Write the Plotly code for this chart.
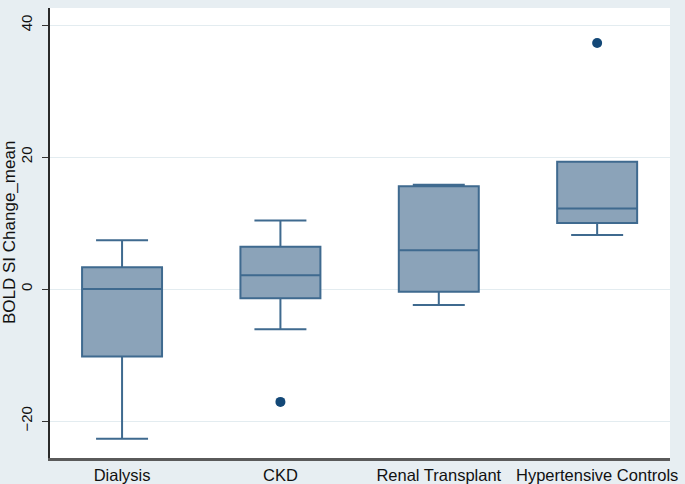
import plotly.graph_objects as go

groups = ["Dialysis", "CKD", "Renal Transplant", "Hypertensive Controls"]
lower_whisker = [-22.7, -6.1, -2.4, 8.2]
q1_vals = [-10.2, -1.4, -0.4, 10.0]
medians = [0.0, 2.1, 5.9, 12.2]
q3_vals = [3.3, 6.4, 15.6, 19.3]
upper_whisker = [7.4, 10.4, 15.8, 19.3]
outlier_group = [1, 3]
outlier_vals = [-17.1, 37.3]

box_fill = "#8ba3b9"
box_line = "#3f6a8f"
dot_color = "#134877"
paper = "#e7eef2"

fig = go.Figure()
fig.add_trace(go.Box(
    x=list(range(len(groups))),
    q1=q1_vals, median=medians, q3=q3_vals,
    lowerfence=lower_whisker, upperfence=upper_whisker,
    fillcolor=box_fill,
    line=dict(color=box_line, width=2),
    width=0.505,
    whiskerwidth=0.65,
    boxpoints=False,
    showlegend=False,
))
fig.add_trace(go.Scatter(
    x=outlier_group, y=outlier_vals,
    mode="markers",
    marker=dict(color=dot_color, size=10),
    showlegend=False,
))

fig.update_layout(
    width=685, height=484,
    margin=dict(l=50, r=15, t=8, b=26),
    paper_bgcolor=paper,
    plot_bgcolor="white",
    font=dict(family="Liberation Sans, Arial, sans-serif", color="#111111"),
    xaxis=dict(
        range=[-0.455, 3.46],
        tickvals=list(range(len(groups))),
        ticktext=groups,
        showgrid=False, zeroline=False,
        showline=True, linecolor="#5a5a5a", linewidth=3,
        ticks="", tickfont=dict(size=16.5),
        automargin=False,
    ),
    yaxis=dict(
        range=[-25.6, 42.6],
        tickvals=[-20, 0, 20, 40],
        tickangle=-90,
        tickfont=dict(size=15),
        ticks="outside", ticklen=6, tickcolor="#333333",
        ticklabelstandoff=4,
        showgrid=True, gridcolor="#e3ecf0", gridwidth=1,
        zeroline=False,
        showline=True, linecolor="#2a2a2a", linewidth=2,
        automargin=False,
    ),
)

# y title as a rotated annotation so it sits at the far left like the original
fig.add_annotation(
    text="BOLD SI Change_mean", textangle=-90,
    xref="paper", yref="paper", x=0, y=0.5,
    xanchor="center", yanchor="middle", xshift=-41,
    showarrow=False, font=dict(size=17),
)

# drop the page's default body margin so the figure fills the window
fig.write_html(
    "out.html",
    config={"displayModeBar": False},
    post_script=f"document.body.style.margin='0';document.body.style.background='{paper}';",
)
